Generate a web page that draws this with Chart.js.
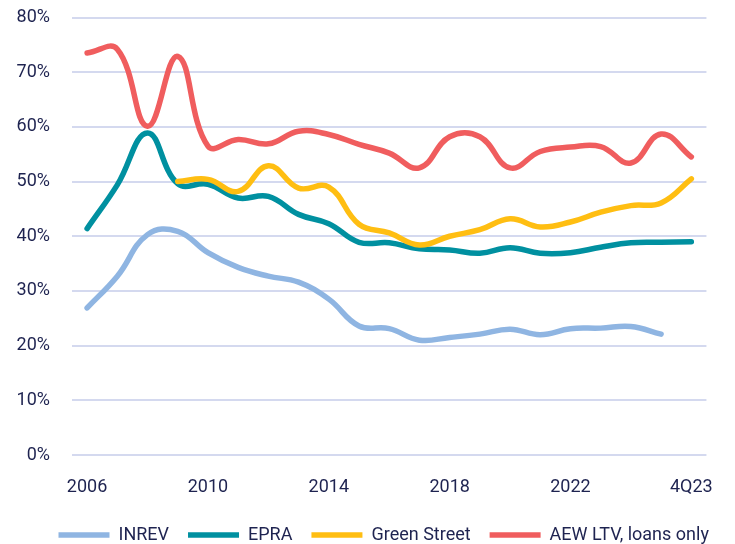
<!DOCTYPE html>
<html>
<head>
<meta charset="utf-8">
<script src="https://cdn.jsdelivr.net/npm/chart.js@4"></script>
<style>
html,body{margin:0;padding:0;background:#ffffff;}
#wrap{width:735px;height:544px;position:relative;}
</style>
</head>
<body>
<div id="wrap"><canvas id="c"></canvas></div>
<script>
const categories = ['2006','2007','2008','2009','2010','2011','2012','2013','2014','2015','2016','2017','2018','2019','2020','2021','2022','1Q23','2Q23','3Q23','4Q23'];
const shownTickLabels = ['2006','2010','2014','2018','2022','4Q23'];
const seriesNames = ['INREV','EPRA','Green Street','AEW LTV, loans only'];
const inrev = [26.9, 32.7, 40.3, 40.9, 37.0, 34.3, 32.7, 31.6, 28.5, 23.6, 23.1, 21.0, 21.5, 22.1, 23.0, 22.0, 23.1, 23.2, 23.5, 22.1, null];
const epra = [41.4, 49.4, 58.9, 49.6, 49.5, 47.0, 47.3, 44.0, 42.3, 38.9, 38.8, 37.7, 37.5, 36.9, 37.9, 36.9, 37.0, 38.0, 38.8, 38.9, 39.0];
const greenStreet = [null, null, null, 50.0, 50.4, 48.2, 52.9, 48.8, 49.0, 42.2, 40.6, 38.4, 40.0, 41.2, 43.2, 41.7, 42.6, 44.4, 45.6, 46.1, 50.5];
const aew = [73.5, 74.2, 60.1, 72.9, 56.5, 57.7, 56.9, 59.2, 58.6, 56.8, 55.2, 52.5, 58.2, 58.2, 52.5, 55.5, 56.3, 56.4, 53.4, 58.7, 54.5];
const colors = ['#8fb5e2', '#0090a0', '#ffbe12', '#f05d5e'];

const textColor = '#1e2350';
const fontFamily = "Roboto, 'Liberation Sans', sans-serif";
const seriesData = [inrev, epra, greenStreet, aew];
const legendPad = 19;

const datasets = seriesData.map((d, i) => ({
  label: seriesNames[i],
  data: d,
  borderColor: colors[i],
  backgroundColor: colors[i],
  borderWidth: 5.5,
  borderCapStyle: 'round',
  borderJoinStyle: 'round',
  pointRadius: 0,
  pointHoverRadius: 0,
  tension: 0.42,
  fill: false,
  spanGaps: false,
  order: 4 - i,
  pointStyle: 'line'
}));

const legendPlace = {
  id: 'legendPlace',
  beforeLayout(chart) {
    const lg = chart.legend;
    if (lg && !lg._hPatched) {
      lg.afterFit = function() { this.height = 46; };
      lg._hPatched = true;
    }
  },
  afterLayout(chart) {
    const lg = chart.legend;
    if (!lg || !lg.lineWidths) return;
    const start = (lg.left + legendPad + lg.right - lg.lineWidths[0]) / 2;
    const dx = 58.5 - start;
    lg.left += dx; lg.right += dx;
    const newTop = 507;
    const dy = newTop - lg.top;
    lg.top += dy; lg.bottom += dy;
  }
};

new Chart(document.getElementById('c'), {
  type: 'line',
  data: { labels: categories, datasets: datasets },
  plugins: [legendPlace],
  options: {
    responsive: true,
    maintainAspectRatio: false,
    animation: false,
    layout: { padding: { left: 0, right: 13, top: 17.5, bottom: 0 } },
    plugins: {
      tooltip: { enabled: false },
      legend: {
        position: 'bottom',
        labels: {
          usePointStyle: true,
          pointStyleWidth: 51,
          boxHeight: 5,
          padding: legendPad,
          color: textColor,
          font: { family: fontFamily, size: 18 },
          sort: (a, b) => a.datasetIndex - b.datasetIndex
        }
      }
    },
    scales: {
      x: {
        offset: true,
        grid: { display: false, drawTicks: false },
        border: { display: false },
        afterFit: (s) => { s.height = 42; },
        ticks: {
          autoSkip: false,
          maxRotation: 0,
          padding: 22,
          color: textColor,
          font: { family: fontFamily, size: 18 },
          callback: function(v, i) {
            const l = categories[i];
            return shownTickLabels.includes(l) ? l : '';
          }
        }
      },
      y: {
        min: 0,
        max: 80,
        afterFit: (s) => { s.width = 72; },
        grid: { color: '#d4d9ef', lineWidth: 2, drawTicks: true, tickLength: 22, tickColor: 'rgba(0,0,0,0)' },
        border: { display: false },
        ticks: {
          stepSize: 10,
          padding: 0,
          color: textColor,
          font: { family: fontFamily, size: 18 },
          callback: (v) => v + '%'
        }
      }
    }
  }
});
</script>
</body>
</html>
